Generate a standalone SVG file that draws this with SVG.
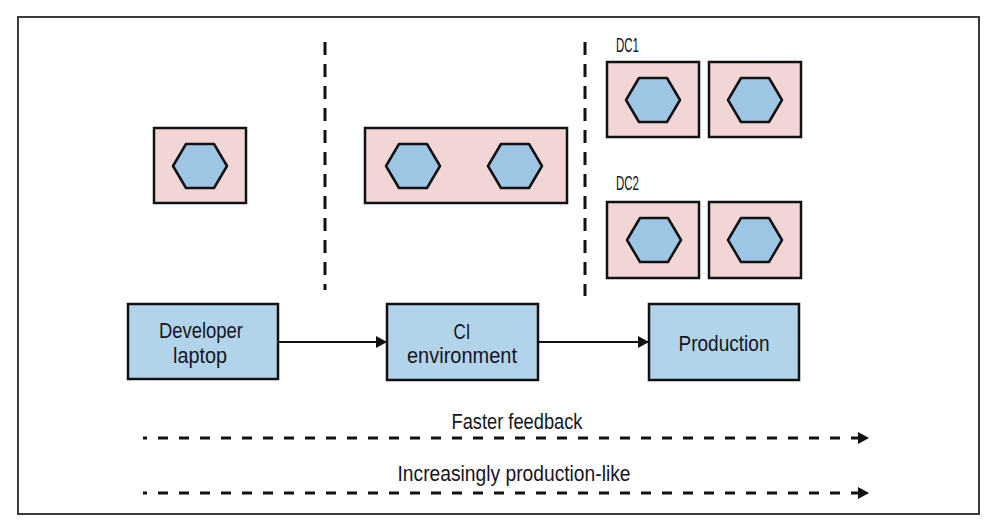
<svg xmlns="http://www.w3.org/2000/svg" width="990" height="525" viewBox="0 0 990 525">
<defs>
<style>
.env{fill:#f2d5d5;stroke:#111;stroke-width:2.5}
.hex{fill:#9dc6e4;stroke:#111;stroke-width:2.5;stroke-linejoin:round}
.node{fill:#b2d4ea;stroke:#111;stroke-width:2.5}
.lbl{font-family:"Liberation Sans",Arial,sans-serif;font-size:22px;fill:#15151f;text-anchor:middle}
.dc{font-family:"Liberation Sans",Arial,sans-serif;font-size:21px;fill:#15151f}
.conn{stroke:#111;stroke-width:2;fill:none}
.vdash{stroke:#111;stroke-width:3;stroke-dasharray:13 9;fill:none}
.hdash{stroke:#111;stroke-width:3;stroke-dasharray:10 11;fill:none}
</style>
<marker id="arr" markerUnits="userSpaceOnUse" markerWidth="12" markerHeight="14" refX="11" refY="6" orient="auto">
<path d="M0,0 L11,6 L0,12 Z" fill="#111"/>
</marker>
<polygon id="hexagon" points="-27,0 -14,-22 14,-22 27,0 14,22 -14,22"/>
</defs>
<rect x="18" y="17" width="961" height="497" fill="#fff" stroke="#3a3a3a" stroke-width="2"/>

<g id="separators">
<line class="vdash" x1="325" y1="42" x2="325" y2="290"/>
<line class="vdash" x1="585" y1="42" x2="585" y2="296"/>
</g>

<g id="dev-env">
<rect class="env" x="154" y="128" width="92" height="75"/>
<use href="#hexagon" class="hex" x="200" y="166"/>
</g>

<g id="ci-env">
<rect class="env" x="365" y="128" width="202" height="75"/>
<use href="#hexagon" class="hex" x="413" y="166"/>
<use href="#hexagon" class="hex" x="515" y="166"/>
</g>

<g id="dc1">
<text class="dc" x="616" y="52" textLength="23" lengthAdjust="spacingAndGlyphs">DC1</text>
<rect class="env" x="607" y="62" width="92" height="75"/>
<use href="#hexagon" class="hex" x="653" y="100"/>
<rect class="env" x="709" y="62" width="92" height="75"/>
<use href="#hexagon" class="hex" x="755" y="100"/>
</g>

<g id="dc2">
<text class="dc" x="616" y="190" textLength="23" lengthAdjust="spacingAndGlyphs">DC2</text>
<rect class="env" x="607" y="202" width="92" height="76"/>
<use href="#hexagon" class="hex" x="654" y="240"/>
<rect class="env" x="709" y="202" width="92" height="76"/>
<use href="#hexagon" class="hex" x="755" y="240"/>
</g>

<g id="developer-laptop">
<rect class="node" x="128" y="304" width="150" height="75"/>
<text class="lbl" x="201" y="338" textLength="84" lengthAdjust="spacingAndGlyphs">Developer</text>
<text class="lbl" x="200" y="363" textLength="54" lengthAdjust="spacingAndGlyphs">laptop</text>
</g>

<g id="ci-environment">
<rect class="node" x="387" y="304" width="151" height="76"/>
<text class="lbl" x="462" y="339" textLength="17" lengthAdjust="spacingAndGlyphs">CI</text>
<text class="lbl" x="462" y="363" textLength="110" lengthAdjust="spacingAndGlyphs">environment</text>
</g>

<g id="production">
<rect class="node" x="649" y="304" width="150" height="76"/>
<text class="lbl" x="724" y="351" textLength="91" lengthAdjust="spacingAndGlyphs">Production</text>
</g>

<g id="connectors">
<line class="conn" x1="278" y1="342" x2="387" y2="342" marker-end="url(#arr)"/>
<line class="conn" x1="538" y1="342" x2="649" y2="342" marker-end="url(#arr)"/>
<line class="hdash" x1="143" y1="438" x2="869" y2="438" stroke-dashoffset="6" marker-end="url(#arr)"/>
<line class="hdash" x1="143" y1="493" x2="869" y2="493" stroke-dashoffset="6" marker-end="url(#arr)"/>
</g>

<g id="axis-labels">
<text class="lbl" x="517" y="429" textLength="131" lengthAdjust="spacingAndGlyphs">Faster feedback</text>
<text class="lbl" x="514" y="481" textLength="233" lengthAdjust="spacingAndGlyphs">Increasingly production-like</text>
</g>
</svg>
